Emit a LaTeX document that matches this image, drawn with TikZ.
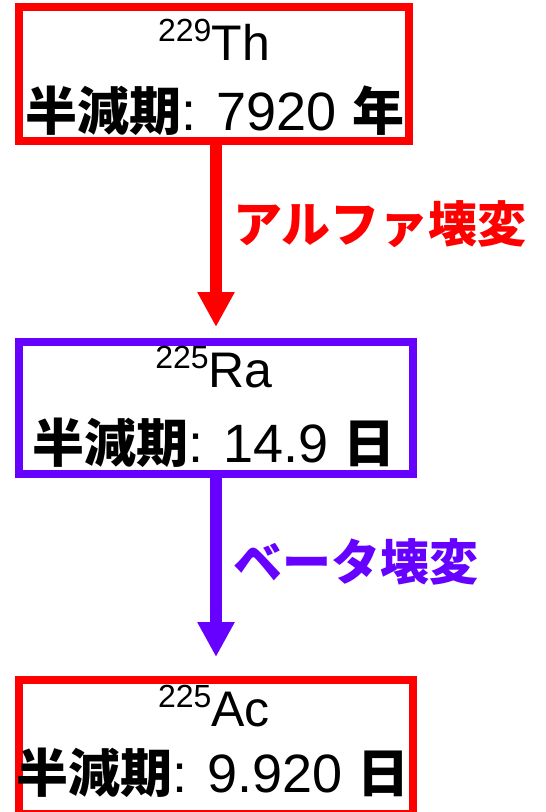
\documentclass[tikz,border=0pt]{standalone}
\usepackage{fontspec}
\setmainfont{Liberation Sans}
\newfontfamily\cjk{Noto Sans CJK JP}
\usetikzlibrary{arrows.meta}
\definecolor{decayred}{RGB}{255,0,0}
\definecolor{decaypurple}{RGB}{102,0,255}
\newcommand{\isoname}[2]{\fontsize{50}{52}\selectfont\raisebox{19pt}{\fontsize{32}{34}\selectfont #1}#2}
\newcommand{\halflife}[2]{{\fontsize{52}{56}\selectfont\cjk\bfseries 半減期}{\fontsize{54}{58}\selectfont: #1 }{\fontsize{52}{56}\selectfont\cjk\bfseries #2}}
\begin{document}
\begin{tikzpicture}[x=1pt,y=1pt,
  box/.style={draw, line width=8pt, rectangle, inner sep=0pt},
  txt/.style={anchor=base, inner sep=0pt},
  decay/.style={line width=12pt, -{Triangle[width=35pt,length=35pt]}},
  lbl/.style={anchor=west, inner sep=0pt, font=\fontsize{49}{52}\selectfont\cjk\bfseries}]
\useasboundingbox (0,0) rectangle (546,-812);
\node[box, draw=decayred, minimum width=390pt, minimum height=134pt] (b1) at (214,-74) {};
\node[box, draw=decaypurple, minimum width=394pt, minimum height=132pt] (b2) at (216,-408) {};
\node[box, draw=decayred, minimum width=394pt, minimum height=134pt] (b3) at (216,-747) {};
\node[txt] (t1a) at (214,-60) {\isoname{229}{Th}};
\node[txt] (t1b) at (215,-130) {\halflife{7920}{年}};
\node[txt] (t2a) at (214,-387) {\isoname{225}{Ra}};
\node[txt] (t2b) at (214,-462) {\halflife{14.9}{日}};
\node[txt] (t3a) at (214,-726) {\isoname{225}{Ac}};
\node[txt] (t3b) at (213,-792) {\halflife{9.920}{日}};
\draw[decay, draw=decayred, fill=decayred, shorten >=11pt] (b2.north |- b1.south) -- (b2.north);
\draw[decay, draw=decaypurple, fill=decaypurple, shorten >=19pt] (b2.south) -- (b3.north);
\node[lbl, text=decayred] (l1) at (233,-224) {アルファ壊変};
\node[lbl, text=decaypurple] (l2) at (233,-562) {ベータ壊変};
\end{tikzpicture}
\end{document}
